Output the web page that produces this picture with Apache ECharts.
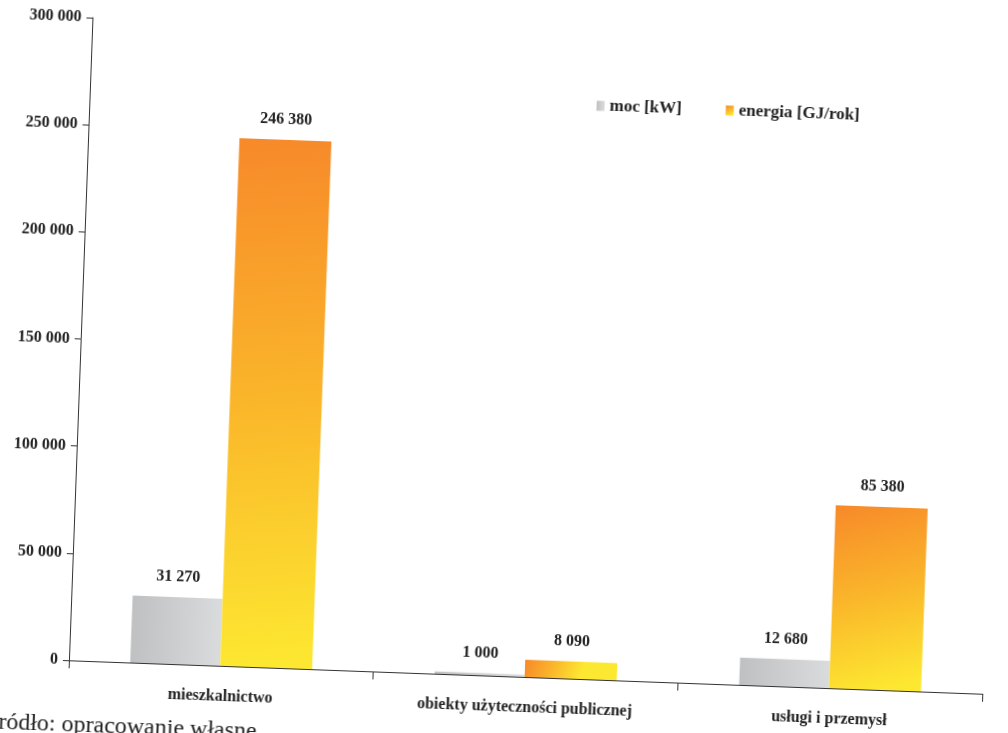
<!DOCTYPE html>
<html>
<head>
<meta charset="utf-8">
<script src="https://cdn.jsdelivr.net/npm/echarts@6/dist/echarts.min.js"></script>
<style>
html,body{margin:0;padding:0;background:#fff;overflow:hidden;}
#wrap{position:relative;width:1008px;height:733px;overflow:hidden;background:#fff;}
#chart{position:absolute;left:0;top:0;width:1008px;height:760px;transform:rotate(2.1deg);transform-origin:504px 366px;}
</style>
</head>
<body>
<div id="wrap"><div id="chart"></div></div>
<script>
const categories = ['mieszkalnictwo', 'obiekty użyteczności publicznej', 'usługi i przemysł'];
const seriesNames = ['moc [kW]', 'energia [GJ/rok]'];
const mocValues = [31270, 1000, 12680];
const energiaValues = [246380, 8090, 85380];
const yTicks = [0, 50000, 100000, 150000, 200000, 250000, 300000];
const sourceNote = 'Źródło: opracowanie własne';

const fmt = v => String(Math.round(v)).replace(/\B(?=(\d{3})+(?!\d))/g, ' ');
const serif = '"Liberation Serif", "DejaVu Serif", serif';

const chart = echarts.init(document.getElementById('chart'), null, {renderer: 'canvas'});
chart.setOption({
  backgroundColor: 'transparent',
  animation: false,
  grid: {left: 80, right: 14, top: 33, bottom: 84, containLabel: false},
  legend: {
    left: 582, top: 89,
    itemWidth: 8, itemHeight: 10, itemGap: 44, icon: 'rect',
    textStyle: {fontFamily: serif, fontWeight: 'bold', fontSize: 17, color: '#222'},
    data: seriesNames
  },
  xAxis: {
    type: 'category',
    data: categories,
    axisLine: {lineStyle: {color: '#333', width: 1}},
    axisTick: {show: true, length: 8, lineStyle: {color: '#333'}},
    axisLabel: {margin: 23, fontFamily: serif, fontWeight: 'bold', fontSize: 16, color: '#222'}
  },
  yAxis: {
    type: 'value',
    min: yTicks[0], max: yTicks[yTicks.length - 1], interval: yTicks[1] - yTicks[0],
    splitLine: {show: false},
    axisLine: {show: true, lineStyle: {color: '#333', width: 1}},
    axisTick: {show: true, length: 6, lineStyle: {color: '#333'}},
    axisLabel: {margin: 11, fontFamily: serif, fontWeight: 'bold', fontSize: 16, color: '#222', formatter: fmt}
  },
  series: [
    {
      name: seriesNames[0], type: 'bar', data: mocValues,
      barWidth: 90, barGap: '0%',
      itemStyle: {color: new echarts.graphic.LinearGradient(0, 0, 1, 0, [
        {offset: 0, color: '#bfc0c1'}, {offset: 1, color: '#dadbdc'}])},
      label: {show: true, position: 'top', distance: 12, formatter: p => fmt(p.value),
        fontFamily: serif, fontWeight: 'bold', fontSize: 16, color: '#222'}
    },
    {
      name: seriesNames[1], type: 'bar', data: energiaValues,
      barWidth: 92,
      itemStyle: {color: new echarts.graphic.LinearGradient(0, 0, 0.6, 1, [
        {offset: 0, color: '#f7892a'}, {offset: 0.5, color: '#fab62a'}, {offset: 1, color: '#fde831'}])},
      label: {show: true, position: 'top', distance: 12, formatter: p => fmt(p.value),
        fontFamily: serif, fontWeight: 'bold', fontSize: 16, color: '#222'}
    }
  ],
  graphic: [{
    type: 'text', left: -3, top: 729,
    style: {text: sourceNote, font: '24px ' + serif, fill: '#222'}
  }]
});
</script>
</body>
</html>
